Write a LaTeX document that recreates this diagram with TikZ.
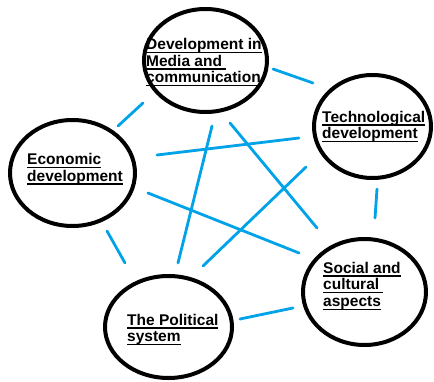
\documentclass[tikz,border=0pt]{standalone}
\usepackage{fontspec}
\setmainfont{Liberation Sans}
\usetikzlibrary{shapes.geometric}
\definecolor{linkblue}{RGB}{0,162,232}
\newcommand\ulx[1]{\setbox0=\hbox{#1}\rlap{\rule[-3.6pt]{\wd0}{1.4pt}}\box0}
\tikzset{
  ell/.style={draw=black, line width=4pt, ellipse, inner sep=0pt, fill=white},
  lbl/.style={anchor=north west, inner sep=0pt, align=left,
    font=\bfseries\fontsize{15.5}{16.6}\selectfont},
  link/.style={draw=linkblue, line width=2.8pt, line cap=round}
}
\begin{document}
\begin{tikzpicture}[x=1pt,y=-1pt]
\useasboundingbox (0,0) rectangle (434,382);
% ellipses
\node[ell, minimum width=123pt, minimum height=103pt] (media) at (205.5,60.5) {};
\node[ell, minimum width=117pt, minimum height=103pt] (tech) at (372.5,126.5) {};
\node[ell, minimum width=125pt, minimum height=106pt] (econ) at (72.5,173) {};
\node[ell, minimum width=123pt, minimum height=106pt] (social) at (364.5,292) {};
\node[ell, minimum width=127pt, minimum height=102pt] (pol) at (168.5,327) {};
% labels
\node[lbl] (medialbl) at (146,38) {\ulx{Development in}\\\ulx{Media and\ }\\\ulx{communication}};
\node[lbl] (techlbl) at (322,110.7) {\ulx{Technological}\\\ulx{development}};
\node[lbl] (econlbl) at (27,153.2) {\ulx{Economic}\\\ulx{development}};
\node[lbl] (sociallbl) at (323,261.8) {\ulx{Social and}\\\ulx{cultural\ }\\\ulx{aspects}};
\node[lbl] (pollbl) at (127,313.8) {\ulx{The Political}\\\ulx{system}};
% connector end points
\coordinate (mt1) at (273,69);  \coordinate (mt2) at (313,83);
\coordinate (ts1) at (377,189); \coordinate (ts2) at (375,218);
\coordinate (sp1) at (293,308); \coordinate (sp2) at (240,319);
\coordinate (em1) at (118,126); \coordinate (em2) at (143,103);
\coordinate (ep1) at (107,231); \coordinate (ep2) at (125,263);
\coordinate (et1) at (157,155); \coordinate (et2) at (299,138);
\coordinate (mp1) at (212,126); \coordinate (mp2) at (178,263);
\coordinate (ms1) at (230,123); \coordinate (ms2) at (317,228);
\coordinate (tp1) at (306,167); \coordinate (tp2) at (203,266);
\coordinate (es1) at (148,193); \coordinate (es2) at (299,253);
% connectors
\draw[link] (mt1) -- (mt2);
\draw[link] (ts1) -- (ts2);
\draw[link] (sp1) -- (sp2);
\draw[link] (em1) -- (em2);
\draw[link] (ep1) -- (ep2);
\draw[link] (et1) -- (et2);
\draw[link] (mp1) -- (mp2);
\draw[link] (ms1) -- (ms2);
\draw[link] (tp1) -- (tp2);
\draw[link] (es1) -- (es2);
\end{tikzpicture}
\end{document}
